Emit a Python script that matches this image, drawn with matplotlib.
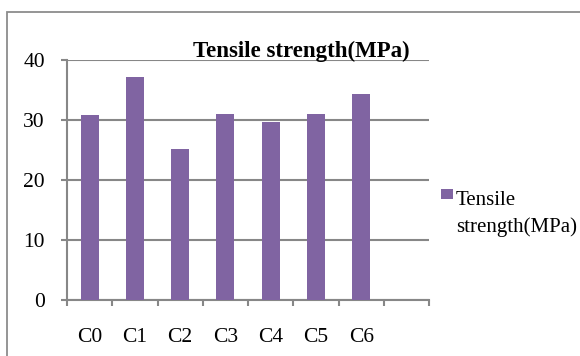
import matplotlib.pyplot as plt
from matplotlib.patches import Rectangle

plt.rcParams['font.family'] = ['Liberation Serif', 'DejaVu Serif']

# tensile strength per composition
samples = ["C0", "C1", "C2", "C3", "C4", "C5", "C6"]
strength = [30.9, 37.2, 25.1, 31.0, 29.6, 31.0, 34.3]
y_ticks = [0, 10, 20, 30, 40]
series_name = "Tensile\nstrength(MPa)"

BAR = "#8064A2"
GRID = "#878787"

W, H = 580, 356
fig = plt.figure(figsize=(W / 100, H / 100), dpi=100)
ax = fig.add_axes([67 / W, 1 - 300 / H, (429 - 67) / W, (300 - 60) / H])

xs = list(range(len(samples)))
ax.bar(xs, strength, width=0.4, color=BAR, zorder=3)

# one empty slot after the last category, like the spreadsheet chart
ax.set_xlim(-0.5, len(samples) + 0.5)
ax.set_ylim(0, 40)
ax.set_yticks(y_ticks)
ax.yaxis.grid(True, color=GRID, lw=1.5, zorder=0)

# category boundaries as major ticks, labels on minor ticks at bar centres
ax.set_xticks([i - 0.5 for i in range(len(samples) + 2)])
ax.set_xticklabels([])
ax.set_xticks(xs, minor=True)
ax.set_xticklabels(samples, minor=True, fontsize=15.5)
ax.tick_params(axis='x', which='major', direction='out', length=4,
               width=1.5, color=GRID)
ax.tick_params(axis='x', which='minor', length=0, pad=20.5)
ax.tick_params(axis='y', direction='out', length=4.5, width=1.5,
               color=GRID, labelsize=15.5, pad=11.5)

for side in ("top", "right"):
    ax.spines[side].set_visible(False)
for side in ("left", "bottom"):
    ax.spines[side].set_color(GRID)
    ax.spines[side].set_linewidth(1.5)

fig.text(301 / W, 1 - 56.7 / H, "Tensile strength(MPa)", ha='center',
         va='baseline', fontsize=16.5, fontweight='bold')

# legend: swatch beside the first line of the wrapped series name
fig.patches.append(Rectangle((441 / W, 1 - 199 / H), 12 / W, 10 / H,
                             transform=fig.transFigure, color=BAR, lw=0))
fig.text(456 / W, 1 - 232 / H, series_name, ha='left', va='baseline',
         fontsize=15, linespacing=1.48)

# chart area frame, running off the right and bottom edges
fig.patches.append(Rectangle((7 / W, -0.2), 1.0, 1.2 - 12 / H,
                             transform=fig.transFigure, fill=False,
                             edgecolor="#8c8c8c", lw=1.3))

fig.savefig("out.png", dpi=100)
